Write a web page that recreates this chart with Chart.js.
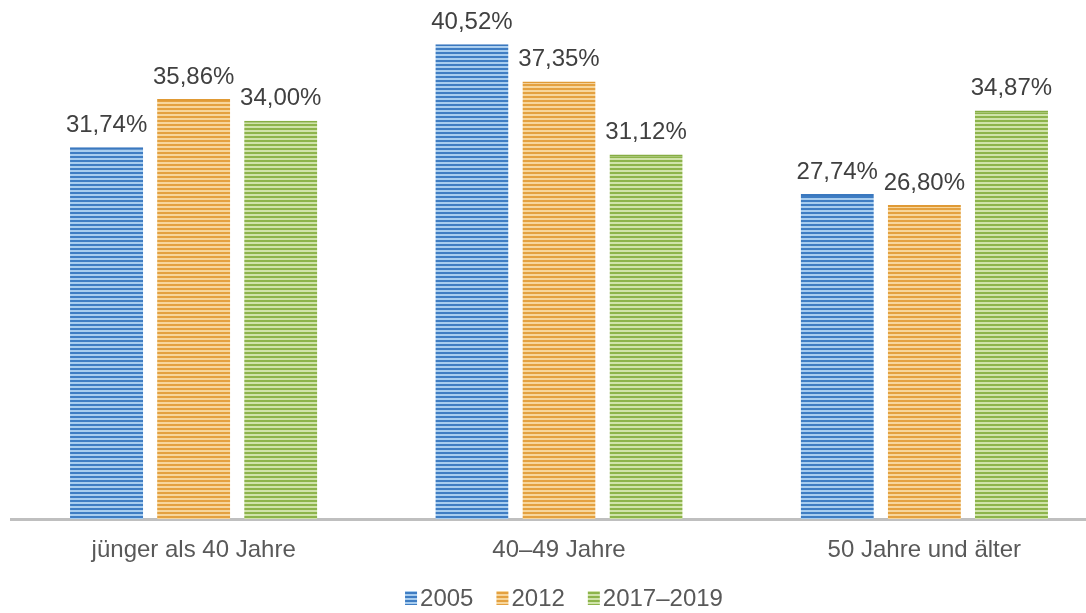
<!DOCTYPE html>
<html>
<head>
<meta charset="utf-8">
<script src="https://cdn.jsdelivr.net/npm/chart.js@4.4.1/dist/chart.umd.min.js"></script>
<style>
  html, body { margin: 0; padding: 0; background: #fff; overflow: hidden; }
  #wrap { width: 1110px; height: 613px; }
</style>
</head>
<body>
<div id="wrap"><canvas id="chart"></canvas></div>
<script>
// Altersgruppen, Anteile in Prozent je Erhebungszeitraum
var categories = ['jünger als 40 Jahre', '40–49 Jahre', '50 Jahre und älter'];
var seriesNames = ['2005', '2012', '2017–2019'];
var values2005 = [31.74, 40.52, 27.74];
var values2012 = [35.86, 37.35, 26.80];
var values2017 = [34.00, 31.12, 34.87];

var FONT = 'Arial, "Liberation Sans", sans-serif';

// striped fill like the original (dark line / light line, 4px period)
function stripes(dark, light) {
  var c = document.createElement('canvas');
  c.width = 4; c.height = 4;
  var g = c.getContext('2d');
  g.fillStyle = light; g.fillRect(0, 0, 4, 4);
  g.fillStyle = dark; g.fillRect(0, 0, 4, 2);
  return g.createPattern(c, 'repeat');
}

var fills = [
  stripes('#3f7dc3', '#a8cdef'),
  stripes('#e4a140', '#f7d69c'),
  stripes('#8db44b', '#d0e3aa')
];
var edges = ['#3a78bf', '#e09a35', '#86ad43'];

// value labels above each bar, German decimal comma
var valueLabels = {
  id: 'valueLabels',
  afterDatasetsDraw: function (chart) {
    var ctx = chart.ctx;
    ctx.save();
    ctx.font = '24px ' + FONT;
    ctx.fillStyle = '#404040';
    ctx.textAlign = 'center';
    ctx.textBaseline = 'bottom';
    chart.data.datasets.forEach(function (ds, i) {
      chart.getDatasetMeta(i).data.forEach(function (bar, j) {
        ctx.fillText(ds.data[j].toFixed(2).replace('.', ',') + '%', bar.x, bar.y - 10);
      });
    });
    ctx.restore();
  }
};

// legend drawn by hand: tight box/text gap like the original
var stripeLegend = {
  id: 'stripeLegend',
  afterDraw: function (chart) {
    var ctx = chart.ctx;
    var area = chart.chartArea;
    ctx.save();
    ctx.font = '24px ' + FONT;
    ctx.textBaseline = 'middle';
    var boxW = 12, boxH = 14, gapBox = 3, gapItem = 23;
    var widths = chart.data.datasets.map(function (ds) {
      return boxW + gapBox + ctx.measureText(ds.label).width;
    });
    var total = widths.reduce(function (a, b) { return a + b; }, 0) + gapItem * (widths.length - 1);
    var x = (area.left + area.right) / 2 + 5 - total / 2;
    var y = 598;
    chart.data.datasets.forEach(function (ds, i) {
      ctx.fillStyle = ds.backgroundColor;
      ctx.fillRect(x, y - boxH / 2, boxW, boxH);
      ctx.fillStyle = '#595959';
      ctx.fillText(ds.label, x + boxW + gapBox, y + 1);
      x += widths[i] + gapItem;
    });
    ctx.restore();
  }
};

var data = [values2005, values2012, values2017];

new Chart(document.getElementById('chart'), {
  type: 'bar',
  data: {
    labels: categories,
    datasets: seriesNames.map(function (name, i) {
      return {
        label: name,
        data: data[i],
        backgroundColor: fills[i],
        borderColor: edges[i],
        borderWidth: { top: 2, left: 0, right: 0, bottom: 0 },
        borderSkipped: false,
        categoryPercentage: 0.715,
        barPercentage: 0.84
      };
    })
  },
  options: {
    responsive: true,
    maintainAspectRatio: false,
    animation: false,
    layout: { padding: { left: 11, right: 3, top: 0, bottom: 31 } },
    scales: {
      x: {
        grid: { display: false, drawTicks: false },
        border: { display: true, color: '#bfbfbf', width: 3 },
        ticks: {
          color: '#595959',
          padding: 17,
          font: { family: FONT, size: 24 }
        }
      },
      y: {
        display: false,
        min: 0,
        max: 44.3
      }
    },
    plugins: {
      legend: { display: false },
      tooltip: { enabled: false }
    }
  },
  plugins: [valueLabels, stripeLegend]
});
</script>
</body>
</html>
